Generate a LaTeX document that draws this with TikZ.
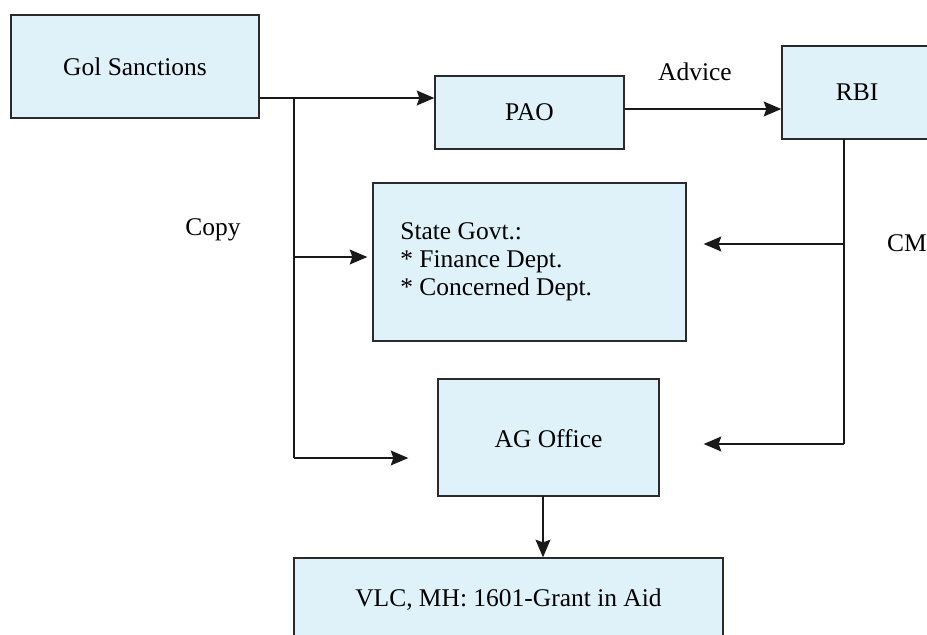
\documentclass[tikz,border=0pt]{standalone}
\usepackage{fontspec}
\setmainfont{Liberation Serif}
\usetikzlibrary{arrows.meta}
\definecolor{boxfill}{HTML}{DFF2FA}
\definecolor{boxline}{HTML}{2A2A2A}
\begin{document}
\begin{tikzpicture}[x=0.02cm,y=-0.02cm,
  fbox/.style={draw=boxline,line width=0.8pt,fill=boxfill,inner sep=0pt,font=\fontsize{14.5}{17.5}\selectfont},
  conn/.style={line width=0.7pt,draw=black!90},
  arr/.style={conn,-{Stealth[length=10pt,width=8.5pt,inset=1.5pt]}},
  lbl/.style={font=\fontsize{14.5}{17.5}\selectfont,inner sep=0pt}]
\useasboundingbox (0,0) rectangle (927,635);
\node[fbox,minimum width=248*0.02cm,minimum height=103*0.02cm] (gs) at (135,66.5) {Gol Sanctions};
\node[fbox,minimum width=189*0.02cm,minimum height=73*0.02cm] (pao) at (529.5,112.5) {PAO};
\node[fbox,minimum width=150*0.02cm,minimum height=93*0.02cm] (rbi) at (857,92.5) {RBI};
\node[fbox,minimum width=313*0.02cm,minimum height=158*0.02cm] (state) at (529.5,262) {};
\node[lbl,anchor=west,align=left,font=\fontsize{14.5}{15.8}\selectfont] (statetxt) at (400,262) {State Govt.:\\* Finance Dept.\\* Concerned Dept.};
\node[fbox,minimum width=221*0.02cm,minimum height=117*0.02cm] (ag) at (548.5,437.5) {};
\node[lbl] (agtxt) at (548.5,439) {AG Office};
\node[fbox,minimum width=429*0.02cm,minimum height=84*0.02cm] (vlc) at (508.5,600) {VLC, MH: 1601-Grant in Aid};
\node[lbl] (advice) at (695,72) {Advice};
\node[lbl] (copy) at (213,230) {Copy};
\node[lbl] (cm) at (907,243) {CM};
\coordinate (j1) at (294,98);
\coordinate (j2) at (294,257);
\coordinate (j3) at (294,458);
\coordinate (r1) at (844,139);
\coordinate (r2) at (844,244);
\coordinate (r3) at (844,444);
\coordinate (a1) at (543,496);
\draw[arr] (gs.east |- j1) -- (pao.west |- j1);
\draw[conn] (j1) -- (j3);
\draw[arr,shorten >=0.1cm] (j2) -- (state.west |- j2);
\draw[arr,shorten >=0.58cm] (j3) -- (ag.west |- j3);
\draw[arr] ([yshift=0.07cm]pao.east) -- ([yshift=0.07cm]rbi.west |- pao.east);
\draw[conn] (r1) -- (r3);
\draw[arr,shorten >=0.34cm] (r2) -- (state.east |- r2);
\draw[arr,shorten >=0.88cm] (r3) -- (ag.east |- r3);
\draw[arr] (a1) -- (vlc.north -| a1);
\end{tikzpicture}
\end{document}
